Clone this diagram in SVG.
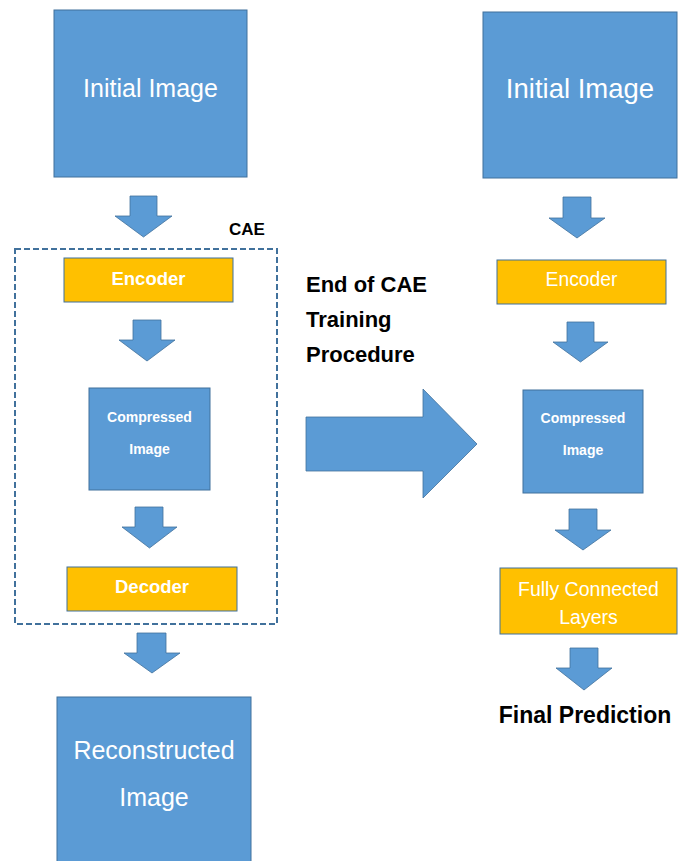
<svg xmlns="http://www.w3.org/2000/svg" width="686" height="861" viewBox="0 0 686 861">
<style>
.blue{fill:#5B9BD5;stroke:#41719C;stroke-width:1}
.yel{fill:#FFC000;stroke:#41719C;stroke-width:1}
.arr{fill:#5B9BD5;stroke:#41719C;stroke-width:0.8}
.wt{fill:#FFFFFF;font-family:"Liberation Sans",Arial,sans-serif;text-anchor:middle}
.bt{fill:#000000;font-family:"Liberation Sans",Arial,sans-serif;font-weight:bold}
.b{font-weight:bold}
</style>
<rect width="686" height="861" fill="#FFFFFF"/>
<g id="cae-frame">
<rect x="15" y="249" width="262" height="375" fill="none" stroke="#41719C" stroke-width="2" stroke-dasharray="6,3"/>
<text class="bt" x="229" y="235" font-size="17">CAE</text>
</g>
<g id="init-left">
<rect class="blue" x="54" y="10" width="193" height="167"/>
<text class="wt" x="150.5" y="97" font-size="25">Initial Image</text>
</g>
<g id="encoder-left">
<rect class="yel" x="64" y="258" width="169" height="44"/>
<text class="wt b" x="148.5" y="285" font-size="18.5">Encoder</text>
</g>
<g id="compressed-left">
<rect class="blue" x="89" y="388" width="121" height="102"/>
<text class="wt b" x="149.5" y="422" font-size="14">Compressed</text>
<text class="wt b" x="149.5" y="454" font-size="14">Image</text>
</g>
<g id="decoder-left">
<rect class="yel" x="67" y="567" width="170" height="44"/>
<text class="wt b" x="152" y="593" font-size="18.5">Decoder</text>
</g>
<g id="reconstructed">
<rect class="blue" x="57" y="697" width="194" height="170"/>
<text class="wt" x="154" y="759" font-size="25">Reconstructed</text>
<text class="wt" x="154" y="806" font-size="25">Image</text>
</g>
<g id="end-label">
<text class="bt" x="306" y="292" font-size="22">End of CAE</text>
<text class="bt" x="306" y="327" font-size="22">Training</text>
<text class="bt" x="306" y="362" font-size="22">Procedure</text>
</g>
<g id="init-right">
<rect class="blue" x="483" y="12" width="194" height="166"/>
<text class="wt" x="580" y="98" font-size="27.5">Initial Image</text>
</g>
<g id="encoder-right">
<rect class="yel" x="497" y="260" width="169" height="44"/>
<text class="wt" x="581.5" y="286" font-size="19.3">Encoder</text>
</g>
<g id="compressed-right">
<rect class="blue" x="523" y="390" width="120" height="103"/>
<text class="wt b" x="583" y="423" font-size="14">Compressed</text>
<text class="wt b" x="583" y="455" font-size="14">Image</text>
</g>
<g id="fc-layers">
<rect class="yel" x="500" y="568" width="177" height="66"/>
<text class="wt" x="588.5" y="596" font-size="19.5">Fully Connected</text>
<text class="wt" x="588.5" y="624" font-size="19.5">Layers</text>
</g>
<g id="final-prediction">
<text class="bt" x="585" y="723" font-size="23" text-anchor="middle">Final Prediction</text>
</g>
<g id="connectors">
<polygon class="arr" points="130,196 157,196 157,216 172,216 143.5,237 115,216 130,216"/>
<polygon class="arr" points="133,320 161,320 161,340 175,340 147,361 119,340 133,340"/>
<polygon class="arr" points="135,507 163,507 163,527 177,527 149.5,548 122,527 135,527"/>
<polygon class="arr" points="137,633 166,633 166,653 180,653 152,673 124,653 137,653"/>
<polygon class="arr" points="306,417 423,417 423,389 477,444 423,498 423,471 306,471"/>
<polygon class="arr" points="563,197 591,197 591,218 605,218 577,238 549,218 563,218"/>
<polygon class="arr" points="567,322 594,322 594,342 608,342 580.5,362 553,342 567,342"/>
<polygon class="arr" points="569,509 597,509 597,530 611,530 583,550 555,530 569,530"/>
<polygon class="arr" points="570,648 598,648 598,668 612,668 584,690 556,668 570,668"/>
</g>
</svg>
